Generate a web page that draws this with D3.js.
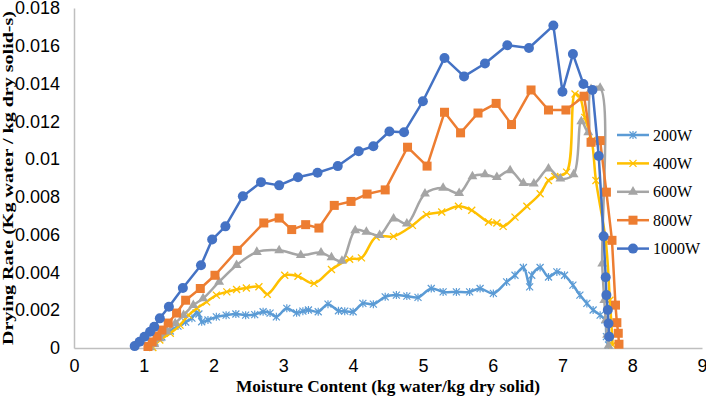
<!DOCTYPE html>
<html>
<head>
<meta charset="UTF-8">
<script src="https://d3js.org/d3.v7.min.js"></script>
<style>
  body { margin: 0; background: #fff; }
  svg { display: block; font-family: "Liberation Serif", "Times New Roman", serif; }
  .axis path { stroke: #bfbfbf; stroke-width: 1.5; }
  .axis text { font-size: 18px; fill: #000; }
  .title { font-weight: bold; }
  .legend text { font-size: 16px; }
</style>
</head>
<body>
<script>
// x = moisture content, y = drying rate (units of 0.001)
const x200 = [1.06,1.16,1.26,1.38,1.49,1.60,1.69,1.75,1.79,1.83,1.92,2.04,2.18,2.32,2.46,2.59,2.71,2.81,2.90,3.05,3.19,3.28,3.36,3.50,3.64,3.79,3.88,4.00,4.14,4.29,4.46,4.62,4.77,4.93,5.12,5.29,5.48,5.67,5.82,6.01,6.20,6.32,6.44,6.53,6.56,6.68,6.80,6.92,7.03,7.15,7.25,7.35,7.44,7.54,7.61,7.63,7.66];
const y200 = [0.05,0.32,0.58,0.90,1.16,1.37,1.58,1.86,1.80,1.39,1.48,1.65,1.74,1.80,1.74,1.77,1.92,1.85,1.65,2.10,1.86,1.95,2.01,1.92,2.32,1.97,1.95,1.92,2.36,2.32,2.71,2.80,2.75,2.68,3.15,2.97,2.97,2.97,3.15,2.89,3.50,3.85,4.26,3.24,3.85,4.26,3.76,4.03,3.85,3.33,2.80,2.36,2.01,1.74,1.48,0.60,0.16];

const x400 = [1.13,1.23,1.38,1.52,1.64,1.76,1.90,2.04,2.19,2.33,2.47,2.65,2.77,3.02,3.21,3.44,3.69,3.95,4.12,4.33,4.58,4.85,5.05,5.27,5.51,5.70,5.94,6.06,6.15,6.32,6.49,6.68,6.80,6.89,7.06,7.18,7.25,7.32,7.42,7.48,7.62,7.68,7.72];
const y400 = [0.03,0.42,0.78,1.21,1.74,2.10,2.44,2.80,2.97,3.10,3.18,3.24,2.85,3.85,3.80,3.42,4.16,4.70,4.77,5.88,5.91,6.49,7.06,7.20,7.50,7.29,6.67,6.62,6.44,6.93,7.50,8.17,8.87,9.08,9.31,13.45,13.27,12.21,10.98,8.87,5.70,2.53,0.16];

const x600 = [1.09,1.15,1.23,1.33,1.45,1.57,1.71,1.85,2.08,2.33,2.62,2.94,3.25,3.54,3.69,3.84,4.03,4.19,4.38,4.58,4.77,5.03,5.29,5.52,5.71,5.89,6.06,6.25,6.44,6.59,6.80,6.97,7.16,7.27,7.37,7.41,7.54,7.57,7.60,7.62,7.64,7.66];
const y600 = [0.03,0.21,0.51,0.86,1.30,1.74,2.27,2.62,3.50,4.38,5.08,5.17,4.91,5.05,4.79,4.61,6.23,6.14,5.97,6.85,6.58,8.17,8.47,8.20,9.08,9.19,9.04,9.40,8.73,8.70,9.49,8.96,9.19,12.00,11.42,13.70,13.77,4.47,2.53,1.48,0.69,0.11];

const x800 = [1.06,1.12,1.19,1.26,1.35,1.47,1.60,1.81,2.02,2.34,2.72,2.94,3.12,3.32,3.51,3.73,3.97,4.20,4.46,4.78,5.06,5.31,5.54,5.79,6.05,6.27,6.55,6.80,7.05,7.31,7.41,7.54,7.63,7.71,7.76,7.78,7.80,7.81];
const y800 = [0.08,0.32,0.63,0.95,1.32,1.85,2.53,3.15,3.85,5.17,6.62,6.88,6.27,6.53,6.35,7.55,7.76,8.15,8.37,10.63,9.63,12.48,11.39,12.44,12.95,11.83,13.66,12.60,12.60,13.33,10.89,10.98,8.25,5.70,2.27,1.34,0.78,0.20];

const x1000 = [0.87,0.94,1.01,1.09,1.15,1.23,1.36,1.56,1.82,1.98,2.17,2.42,2.68,2.94,3.21,3.49,3.78,4.08,4.29,4.52,4.73,5.00,5.31,5.59,5.89,6.21,6.52,6.87,7.00,7.15,7.30,7.43,7.52,7.59,7.62,7.63,7.65,7.66,7.67];
const y1000 = [0.10,0.33,0.60,0.86,1.12,1.57,2.18,3.18,4.38,5.74,6.44,8.03,8.78,8.61,9.04,9.28,9.63,10.42,10.68,11.46,11.42,13.06,15.35,14.38,15.06,16.03,15.88,17.07,13.57,15.56,13.98,13.66,10.16,5.91,3.75,2.80,2.01,1.30,0.60];

const seriesNames = ["200W", "400W", "600W", "800W", "1000W"];
const xTicks = [0, 1, 2, 3, 4, 5, 6, 7, 8, 9];
const yTicks = [0, 0.002, 0.004, 0.006, 0.008, 0.01, 0.012, 0.014, 0.016, 0.018];
const yTickLabels = ["0", "0.002", "0.004", "0.006", "0.008", "0.01", "0.012", "0.014", "0.016", "0.018"];

const W = 706, H = 397;
const svg = d3.select("body").append("svg").attr("width", W).attr("height", H);

const x = d3.scaleLinear().domain([0, 9]).range([74, 702]);
const y = d3.scaleLinear().domain([0, 0.018]).range([348, 8]);

// axes
svg.append("g").attr("class", "axis")
  .attr("transform", "translate(0,348)")
  .call(d3.axisBottom(x).tickValues(xTicks).tickSize(0).tickPadding(11).tickFormat(d3.format("d")));
svg.append("g").attr("class", "axis")
  .attr("transform", "translate(74,0)")
  .call(d3.axisLeft(y).tickValues(yTicks).tickSize(0).tickPadding(14).tickFormat((d, i) => yTickLabels[i]));

svg.append("text").attr("class", "title")
  .attr("x", 388).attr("y", 392).attr("text-anchor", "middle")
  .style("font-size", "17px")
  .attr("textLength", 304).attr("lengthAdjust", "spacingAndGlyphs")
  .text("Moisture Content (kg water/kg dry solid)");
svg.append("text").attr("class", "title")
  .attr("transform", "translate(13,178) rotate(-90)").attr("text-anchor", "middle")
  .style("font-size", "15px")
  .attr("textLength", 334).attr("lengthAdjust", "spacingAndGlyphs")
  .text("Drying Rate (Kg water / kg dry solid-s)");

// marker drawing helpers
function drawMarker(g, type, color) {
  if (type === "star") {
    g.append("path").attr("d", "M-3.5,-3.5L3.5,3.5M-3.5,3.5L3.5,-3.5M0,-4L0,4")
      .attr("stroke", color).attr("stroke-width", 1.2).attr("fill", "none");
  } else if (type === "x") {
    g.append("path").attr("d", "M-3.5,-3.5L3.5,3.5M-3.5,3.5L3.5,-3.5")
      .attr("stroke", color).attr("stroke-width", 1.3).attr("fill", "none");
  } else if (type === "tri") {
    g.append("path").attr("d", d3.symbol(d3.symbolTriangle, 42)()).attr("fill", color);
  } else if (type === "sq") {
    g.append("rect").attr("x", -4.5).attr("y", -4.5).attr("width", 9).attr("height", 9).attr("fill", color);
  } else {
    g.append("circle").attr("r", 5).attr("fill", color);
  }
}

const series = [
  { name: seriesNames[0], xs: x200, ys: y200, color: "#5b9bd5", marker: "star", curve: d3.curveCatmullRom },
  { name: seriesNames[1], xs: x400, ys: y400, color: "#ffc000", marker: "x", curve: d3.curveCatmullRom },
  { name: seriesNames[2], xs: x600, ys: y600, color: "#a5a5a5", marker: "tri", curve: d3.curveCatmullRom },
  { name: seriesNames[3], xs: x800, ys: y800, color: "#ed7d31", marker: "sq", curve: d3.curveLinear },
  { name: seriesNames[4], xs: x1000, ys: y1000, color: "#4472c4", marker: "circle", curve: d3.curveLinear }
];

series.forEach(s => {
  const pts = s.xs.map((v, i) => [v, s.ys[i] / 1000]);
  const line = d3.line().x(d => x(d[0])).y(d => y(d[1])).curve(s.curve);
  svg.append("path").datum(pts)
    .attr("fill", "none").attr("stroke", s.color).attr("stroke-width", 2.5)
    .attr("stroke-linejoin", "round").attr("d", line);
  pts.forEach(p => {
    const g = svg.append("g").attr("transform", "translate(" + x(p[0]) + "," + y(p[1]) + ")");
    drawMarker(g, s.marker, s.color);
  });
});

// legend
const legend = svg.append("g").attr("class", "legend");
series.forEach((s, i) => {
  const ly = 135 + i * 28.4;
  legend.append("line").attr("x1", 617).attr("x2", 649).attr("y1", ly).attr("y2", ly)
    .attr("stroke", s.color).attr("stroke-width", 2.5);
  drawMarker(legend.append("g").attr("transform", "translate(633," + ly + ")"), s.marker, s.color);
  legend.append("text").attr("x", 653).attr("y", ly + 5.5).text(s.name);
});
</script>
</body>
</html>
